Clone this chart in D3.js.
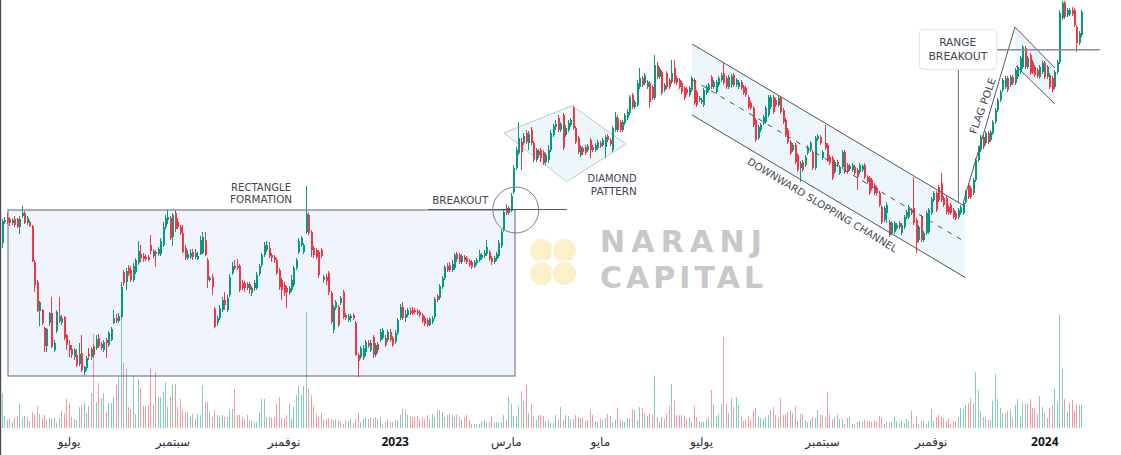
<!DOCTYPE html>
<html><head><meta charset="utf-8">
<script src="https://cdn.jsdelivr.net/npm/d3@7"></script>
<style>html,body{margin:0;padding:0;background:#fff;overflow:hidden}svg{display:block}</style>
</head><body><svg id="c" width="1121" height="455"></svg>
<script>
// ---- data (daily candles, price units) ----
const open = [
257,278,282,281,277,281,281,273,284,287, 277,278,274,238,218,189,190,172,154,177,
187,150,169,184,177,183,165,155,151,143, 145,136,147,128,132,146,143,154,152,162,
156,150,160,155,160,177,182,179,183,228, 218,232,230,220,228,237,246,244,243,243,
255,244,248,246,246,255,273,280,282,263, 287,278,273,267,252,242,243,248,243,241,
246,247,260,240,220,223,191,177,182,190, 200,190,205,227,234,234,234,217,217,212,
216,207,212,212,226,235,245,250,252,245, 243,240,230,220,215,212,207,210,215,232,
248,255,248,268,285,268,252,250,248,250, 220,223,227,207,170,192,193,197,208,185,
180,182,185,177,145,143,142,148,157,150, 163,145,156,160,162,162,160,168,162,158,
167,182,193,182,185,189,190,190,189,188, 185,182,180,175,178,183,204,202,213,222,
234,235,230,232,246,245,238,243,242,239, 238,233,237,240,242,244,246,248,242,238,
241,244,254,270,292,287,290,308,332,347, 358,357,367,357,370,357,340,349,350,348,
338,340,350,365,373,382,370,385,365,370, 375,392,372,362,345,352,353,350,360,353,
350,352,357,355,353,364,360,350,370,382, 378,370,377,382,387,405,393,395,413,422,
417,413,417,413,402,435,423,428,410,427, 420,418,432,422,420,417,412,411,405,410,
420,408,400,398,395,407,410,423,413,408, 415,420,427,422,413,415,425,415,413,418,
413,412,403,397,392,380,362,370,377,378, 385,393,403,400,395,402,390,380,370,358,
350,355,345,332,338,335,347,350,348,332, 361,363,342,357,355,343,342,328,338,327,
333,348,335,331,330,333,330,328,330,335, 323,322,320,315,312,307,293,280,287,278,
267,268,272,277,267,273,283,283,290,292, 280,260,283,260,267,268,287,300,307,313,
317,302,302,293,295,290,287,283,287,287, 298,315,312,307,320,340,350,363,357,367,
360,367,378,390,400,410,413,422,415,423, 417,423,428,433,452,433,445,438,433,430,
423,428,437,423,425,422,413,428,438,482, 497,485,486,490,490,473,457,465];
const high = [
281,283,287,283,282,284,282,284,294,289, 284,280,275,240,220,199,191,173,172,188,
203,160,190,203,185,184,166,160,155,152, 151,157,165,134,144,152,153,156,165,166,
158,160,162,169,173,190,186,187,218,230, 232,235,234,237,242,259,255,247,246,245,
265,251,250,253,262,278,285,290,284,287, 290,282,275,275,255,250,251,251,251,248,
264,268,268,242,224,226,193,184,195,203, 208,205,226,238,240,241,236,220,219,218,
218,214,220,228,236,247,258,259,258,247, 245,242,232,222,218,214,214,225,234,242,
262,264,257,314,288,270,254,252,250,252, 225,226,229,209,195,200,195,204,210,187,
186,186,187,179,147,154,155,160,160,160, 165,157,158,171,172,165,170,171,164,170,
182,196,198,190,192,192,193,192,191,190, 187,184,182,183,184,203,206,216,224,235,
237,238,240,247,248,247,246,245,244,241, 240,240,242,250,247,250,260,250,244,244,
248,260,271,290,296,294,307,335,353,378, 362,367,370,369,373,359,352,351,352,350,
347,355,370,376,380,385,378,387,375,380, 382,394,374,364,355,354,355,356,362,355,
357,360,359,362,365,366,362,374,388,385, 380,380,387,391,405,407,400,420,432,424,
427,420,419,415,445,438,433,430,417,429, 422,440,440,424,422,419,414,413,414,424,
422,410,404,402,412,415,417,425,420,420, 424,427,437,424,425,426,427,422,420,420,
415,414,405,399,394,382,375,377,385,394, 405,405,405,402,404,404,392,382,372,360,
357,357,347,339,340,345,355,359,350,364, 366,365,350,375,357,345,344,340,340,335,
350,350,337,336,337,335,332,337,336,337, 325,324,322,317,314,309,295,294,298,280,
279,279,277,279,277,285,290,295,292,323, 282,275,285,269,289,292,303,309,309,315,
327,304,304,295,297,292,289,292,295,299, 310,317,314,322,342,354,365,365,369,369,
370,380,392,402,410,422,424,424,425,425, 432,435,444,455,454,444,447,440,435,432,
435,439,439,435,427,424,430,440,490,499, 499,492,492,493,492,475,469,490];
const low = [
252,276,276,274,275,273,272,266,282,276, 275,273,238,208,188,174,175,148,148,174,
152,148,167,177,175,160,150,143,142,140, 133,134,128,125,129,140,140,142,150,152,
150,148,142,153,159,176,177,177,182,214, 210,224,218,218,226,235,238,238,239,239,
246,242,233,244,244,253,271,276,260,254, 268,271,265,247,240,240,241,240,241,240,
245,246,244,212,218,205,172,174,180,188, 190,188,203,225,230,230,208,210,208,210,
206,204,209,210,224,233,243,248,242,238, 237,225,210,200,204,192,205,208,213,230,
246,253,246,266,265,243,242,241,222,242, 217,215,205,176,167,190,173,195,181,180,
178,178,180,144,123,141,140,144,152,148, 142,143,147,158,160,153,158,158,153,156,
165,180,180,178,183,185,185,186,185,183, 177,174,173,174,176,181,198,200,211,220,
228,228,228,230,238,236,236,238,236,233, 231,232,235,238,240,242,244,239,235,236,
239,242,252,268,285,285,288,306,330,345, 330,355,356,350,355,338,338,342,338,335,
335,337,348,363,370,368,368,350,363,368, 373,370,356,346,343,345,345,348,342,348,
348,350,352,353,342,358,354,348,368,368, 368,368,375,380,385,391,391,393,411,413,
415,411,392,400,400,421,421,405,408,411, 411,416,416,415,411,406,400,405,403,408,
395,393,398,396,393,405,408,411,411,406, 413,418,415,411,411,412,413,413,411,410,
405,403,391,390,373,358,360,368,375,376, 383,391,386,393,393,386,376,363,356,345,
348,336,328,318,328,333,345,348,330,330, 359,355,340,350,338,335,320,326,333,325,
331,326,326,329,328,325,310,326,328,321, 316,305,310,305,304,293,276,278,277,263,
265,266,270,271,265,271,281,281,285,275, 247,258,258,258,265,266,285,298,288,298,
298,293,286,285,285,281,280,281,285,285, 296,301,301,305,318,338,348,351,355,356,
358,365,376,388,398,408,411,408,413,415, 415,421,426,431,431,431,425,426,423,422,
421,426,421,421,411,408,411,426,436,480, 481,483,484,484,473,448,455,463];
const close = [
279,280,278,277,280,275,273,281,287,277, 282,274,239,215,189,198,177,154,171,187,
153,157,188,179,182,162,155,150,145,150, 135,146,130,133,142,144,151,145,161,154,
152,158,157,167,171,182,179,184,213,217, 229,226,220,234,240,249,242,241,241,240,
249,249,246,251,259,273,282,283,262,285, 271,273,267,248,242,246,247,243,247,244,
260,263,245,220,222,213,173,182,192,200, 195,202,223,234,232,232,210,212,212,216,
210,212,217,225,234,245,255,255,244,242, 240,227,213,210,207,208,212,220,232,240,
259,262,255,286,267,250,245,243,225,244, 223,219,208,178,193,198,175,202,183,182,
184,184,182,145,139,152,152,158,154,157, 145,155,150,168,170,155,168,160,155,167,
180,193,182,186,190,187,187,188,187,185, 179,176,175,181,182,201,200,214,222,233,
230,230,236,245,241,238,244,240,238,235, 233,238,240,246,245,247,253,241,238,242,
246,257,268,288,287,292,304,332,350,362, 348,364,358,366,357,340,350,345,342,337,
345,350,367,374,376,370,376,352,372,377, 380,372,358,348,353,348,347,354,350,350,
355,358,354,360,363,360,356,372,383,370, 370,378,385,388,403,393,398,417,422,415,
425,418,398,402,435,423,431,407,415,413, 413,427,418,417,413,408,402,407,412,422,
397,395,402,400,410,413,415,413,418,418, 422,425,417,413,423,424,415,420,418,412,
407,405,393,392,375,360,373,375,383,392, 403,403,388,395,402,388,378,365,358,347,
355,338,330,337,330,343,353,357,332,362, 364,357,348,352,340,337,322,338,335,333,
348,328,328,334,335,327,323,335,334,323, 318,307,312,307,307,295,278,292,295,265,
277,277,275,273,275,283,288,293,287,277, 257,273,260,267,287,290,301,307,290,300,
300,295,288,287,287,283,282,290,293,297, 308,303,303,320,340,352,363,353,367,358,
368,378,390,400,408,420,422,410,423,417, 430,433,442,453,433,442,427,428,425,424,
433,437,423,433,413,410,428,438,487,497, 483,490,490,486,475,457,467,488];
const volume = [
35,12,8,9,6,10,12,24,10,12, 11,7,16,14,22,14,10,13,8,10, 9,10,5,10,17,15,29,25,11,9,
8,21,23,25,15,22,35,94,26,45, 30,35,16,25,25,31,43,50,110,
65,59,21,19,53,14,49,40,22,22, 23,60,23,56,31,31,36,46,21,31, 43,44,21,29,18,16,16,11,14,9,
14,13,43,26,26,16,11,18,13,11, 13,11,11,18,19,39,13,13,11, 9,13,8,8,6,6,16,29,29,11,
11,10,11,24,31,10,10,13,24,9, 21,33,42,33,42,116,40,33,22,14, 11,15,8,9,10,9,8,9,8,7,
4,8,7,9,5,9,16,6,9,11, 9,10,9,11,9,11,4,6,9,6, 6,8,8,13,19,18,13,12,11,11,
12,9,11,9,13,9,14,11,18,18, 16,11,13,14,13,11,13,11,8,11, 13,8,4,4,4,4,7,8,6,6,
12,5,6,5,6,13,8,31,24,12, 12,22,37,27,43,15,24,12,8,13, 13,12,7,8,5,5,13,8,21,
8,13,12,9,9,13,11,10,10,7,8, 18,13,7,6,9,8,10,14,12,6,8, 20,9,7,6,10,9,19,18,8,21,
20,14,12,14,13,52,11,6,11,9, 14,22,44,28,13,13,13,12,9,11,6, 22,11,7,6,6,9,11,38,24,12,
14,24,91,24,15,30,21,31,23,11, 7,9,12,8,17,20,11,10,9,11,13, 18,21,13,10,30,13,14,16,17,15,22,
7,14,14,8,6,8,11,10,18,13, 13,11,36,14,9,11,14,9,9,4, 10,11,4,4,6,7,6,8,7,7,6,
8,6,12,11,4,6,5,6,11,7,5, 7,5,9,8,17,4,12,4,7,7,4, 7,19,7,11,13,11,10,7,10,4,
7,7,11,20,19,23,25,30,24,56, 38,17,11,11,8,8,27,54,29,20, 15,15,17,18,10,23,29,12,26,24,24,
29,20,20,14,32,21,15,10,20,23,39, 26,114,59,29,16,25,28,17,24,23,23];
const tickIndex  = [27, 69, 114, 159, 204, 242, 283, 332, 376, 422];
const tickLabels = ["يوليو","سبتمبر","نوفمبر","2023","مارس","مايو","يوليو","سبتمبر","نوفمبر","2024"];

// ---- chart ----
const W = 1121, H = 455;
const N = close.length;
const UP = "#089981", DN = "#f23645";
const UPV = "rgba(8,153,129,0.5)", DNV = "rgba(242,54,69,0.5)";
const svg = d3.select("#c");
const x = d3.scaleLinear().domain([0, N - 1]).range([2, 1081.4]);
const y = d3.scaleLinear().domain([100, 500]).range([400, 0]);
const yv = d3.scaleLinear().domain([0, 120]).range([428, 308]);
const P = (i, p) => [x(i), y(p)];
const data = d3.range(N).map(i => ({i, o: open[i], h: high[i], l: low[i], c: close[i], v: volume[i]}));
const TXT = "#434651", FONT = "'DejaVu Sans', sans-serif";

svg.append("rect").attr("width", W).attr("height", H).attr("fill", "#fff");

// watermark
const wm = svg.append("g");
[[-11.5,-11.5],[11.5,-11.5],[-11.5,11.5],[11.5,11.5]].forEach(([dx,dy]) => {
  wm.append("circle").attr("cx", 553 + dx).attr("cy", 262 + dy).attr("r", 12.5)
    .attr("fill", "#fdefc8").attr("stroke", "#fff").attr("stroke-width", 2);
});
wm.append("circle").attr("cx", 553).attr("cy", 262).attr("r", 4).attr("fill", "#fff");
const wt = wm.append("text").attr("font-family", "'DejaVu Sans', sans-serif").attr("font-weight", 700)
  .attr("font-size", 30).attr("fill", "#c8c8c8");
wt.append("tspan").attr("x", 600).attr("y", 252).attr("textLength", 162).attr("lengthAdjust", "spacing").text("NARANJ");
wt.append("tspan").attr("x", 600).attr("y", 288).attr("textLength", 163).attr("lengthAdjust", "spacing").text("CAPITAL");

// pattern fills
const rect = {i0: 2.43, i1: 207.7, pTop: 290, pBot: 124};
svg.append("rect").attr("x", x(rect.i0)).attr("y", y(rect.pTop))
  .attr("width", x(rect.i1) - x(rect.i0)).attr("height", y(rect.pBot) - y(rect.pTop))
  .attr("fill", "#f0f5fd");
const diamond = [[203.2,367],[230.8,394.3],[252.6,356],[228.6,318.3]];
svg.append("polygon").attr("points", diamond.map(d => P(...d).join(",")).join(" "))
  .attr("fill", "#eef7fb").attr("stroke", "#b8c8d2").attr("stroke-width", 1);
const chUp = [[279.4,456],[389.9,293.6]], chLo = [[279.4,385],[389.9,222.6]];
svg.append("polygon").attr("points", [chUp[0], chUp[1], chLo[1], chLo[0]].map(d => P(...d).join(",")).join(" "))
  .attr("fill", "#edf7fb");
const flagPoly = [[410.1,473],[426.3,432],[426.3,396],[410.5,434]];
svg.append("polygon").attr("points", flagPoly.map(d => P(...d).join(",")).join(" ")).attr("fill", "#e9f5fb");

// volume
svg.append("g").attr("shape-rendering", "crispEdges").selectAll("rect").data(data).join("rect")
  .attr("x", d => Math.round(x(d.i))).attr("width", 1)
  .attr("y", d => yv(d.v)).attr("height", d => yv(0) - yv(d.v))
  .attr("fill", d => d.c >= d.o ? UPV : DNV);

// rectangle border
svg.append("rect").attr("x", x(rect.i0)).attr("y", y(rect.pTop))
  .attr("width", x(rect.i1) - x(rect.i0)).attr("height", y(rect.pBot) - y(rect.pTop))
  .attr("fill", "none").attr("stroke", "#7b7e88").attr("stroke-width", 1.2);

// candles
const cg = svg.append("g").attr("shape-rendering", "crispEdges");
cg.selectAll("line").data(data).join("line")
  .attr("x1", d => Math.round(x(d.i)) + 0.5).attr("x2", d => Math.round(x(d.i)) + 0.5)
  .attr("y1", d => y(Math.max(d.h, d.o, d.c))).attr("y2", d => y(Math.min(d.l, d.o, d.c)))
  .attr("stroke", d => d.c >= d.o ? UP : DN).attr("stroke-width", 1);
cg.selectAll("rect").data(data).join("rect")
  .attr("x", d => Math.round(x(d.i))).attr("width", 2)
  .attr("y", d => y(Math.max(d.o, d.c)))
  .attr("height", d => Math.max(1, Math.abs(y(d.o) - y(d.c))))
  .attr("fill", d => d.c >= d.o ? UP : DN);

// drawing lines
const line = (a, b, stroke, w, dash) => {
  const l = svg.append("line").attr("x1", P(...a)[0]).attr("y1", P(...a)[1])
    .attr("x2", P(...b)[0]).attr("y2", P(...b)[1]).attr("stroke", stroke).attr("stroke-width", w);
  if (dash) l.attr("stroke-dasharray", dash);
  return l;
};
line([172.5,290.5],[228.7,290.5], "#55585f", 1);
svg.append("circle").attr("cx", x(208)).attr("cy", y(290)).attr("r", 23)
  .attr("fill", "none").attr("stroke", "#7d7f86").attr("stroke-width", 1);
line(chUp[0], chUp[1], "#4d5058", 1);
line(chLo[0], chLo[1], "#4d5058", 1);
line([279.4,(456+385)/2],[389.9,(293.6+222.6)/2], "#4d5058", 1, "5,6");
line([389.1,297],[410.1,473], "#55585f", 1);
line([410.1,473],[426.3,432], "#55585f", 1);
line([410.5,434],[426.3,396], "#55585f", 1);
line([402.7,450.3],[444.5,450.3], "#8a8d94", 1.6);
line([387.2,430.7],[387.2,296.7], "#6a6d75", 1);
svg.append("rect").attr("x", x(371.4)).attr("y", y(470.7))
  .attr("width", x(402.7) - x(371.4)).attr("height", y(430.7) - y(470.7)).attr("rx", 4)
  .attr("fill", "#fff").attr("stroke", "#dfe2e8").attr("stroke-width", 1);

// annotation text (multi-line labels are one text element with tspans)
const label = (lines, rot) => {
  const t = svg.append("text").attr("text-anchor", "middle").attr("font-family", FONT)
    .attr("font-size", 10.2).attr("fill", TXT);
  lines.forEach(([s, i, p, len]) => {
    const [tx, ty] = P(i, p);
    t.append("tspan").attr("x", tx).attr("y", ty).attr("dy", "0.36em")
      .attr("textLength", len).attr("lengthAdjust", "spacingAndGlyphs").text(s);
  });
  if (rot) {
    const [tx, ty] = P(lines[0][1], lines[0][2]);
    t.attr("transform", `rotate(${rot},${tx},${ty})`);
  }
};
label([["RECTANGLE", 104.9, 312.8, 60], ["FORMATION", 104.9, 300.8, 62]]);
label([["BREAKOUT", 185.5, 300, 56]]);
label([["DIAMOND", 247, 321.2, 49], ["PATTERN", 247.7, 308.5, 46]]);
label([["RANGE", 386.9, 457.8, 37], ["BREAKOUT", 387, 443.3, 59]]);
label([["FLAG POLE", 397, 394.2, 59]], -70);
label([["DOWNWARD SLOPPING CHANNEL", 332.2, 295, 173]], 31);

// x axis
const ax = d3.axisBottom(x).tickValues(tickIndex).tickFormat((d, k) => tickLabels[k]).tickSize(0).tickPadding(0);
const ag = svg.append("g").attr("transform", "translate(0,441.5)").call(ax);
ag.select(".domain").remove();
const isYear = d => /\d/.test(tickLabels[tickIndex.indexOf(d)]);
ag.selectAll("text").attr("y", 0).attr("dy", "0.36em")
  .attr("font-size", 12)
  .attr("font-family", d => isYear(d) ? "'Noto Sans', sans-serif" : "'DejaVu Sans', sans-serif")
  .attr("font-weight", d => isYear(d) ? 700 : 400)
  .attr("fill", d => isYear(d) ? "#131722" : "#2a2e39");

// left frame edge
svg.append("rect").attr("x", 0).attr("y", 0).attr("width", 1.2).attr("height", H).attr("fill", "#4a4d55");
</script>
</body></html>
